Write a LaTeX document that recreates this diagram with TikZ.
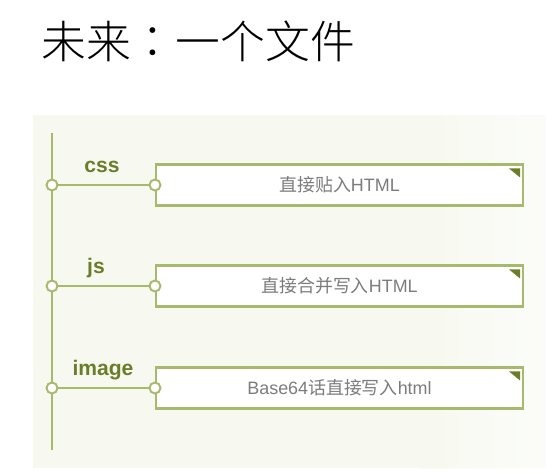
\documentclass[tikz,border=0pt]{standalone}
\usepackage{fontspec}
\setmainfont{Liberation Sans}
\newfontfamily\cjk{Noto Sans CJK SC}
\newfontfamily\cjklight{Noto Sans CJK TC}[UprightFont={* Light}]
\usepackage{tikz}
\usetikzlibrary{positioning,calc}
\definecolor{leaf}{HTML}{A6B96C}
\definecolor{leafdark}{HTML}{6C7D2A}
\definecolor{panel}{HTML}{F7F9F0}
\definecolor{boxtext}{HTML}{7C7C7C}

\begin{document}
\begin{tikzpicture}[x=0.02cm,y=-0.02cm,
stem/.style={draw=leaf, line width=1.2pt},
knot/.style={circle, draw=leaf, fill=white, line width=1.1pt, inner sep=0pt, minimum size=0.22cm},
itembox/.style={draw=leaf, fill=white, line width=1.2pt, minimum width=7.34cm, minimum height=0.82cm, inner sep=0pt, text=boxtext, font=\fontsize{10.2}{12}\selectfont},
tag/.style={text=leafdark, font=\bfseries\fontsize{12}{14}\selectfont, inner sep=0pt},
corner/.style={fill=leafdark}
]
\useasboundingbox (0,0) rectangle (558,474);
% Title
\node[anchor=west, inner sep=0pt, font=\cjklight\fontsize{25.5}{28}\selectfont] (title) at (41,41) {未来：一个文件};
% Panel
\fill[panel] (33,115) rectangle (546,468);
\shade[left color=panel, right color=white, opacity=0.6] (420,115) rectangle (546,468);
% Trunk
\coordinate (top) at (52,133);
\coordinate (bottom) at (52,450);
\draw[stem] (top) -- (bottom);
% Boxes
\node[itembox, anchor=west] (box1) at (155,185) {{\cjk 直接贴入}HTML};
\node[itembox, anchor=west] (box2) at (155,286) {{\cjk 直接合并写入}HTML};
\node[itembox, anchor=west] (box3) at (155,388) {Base64{\cjk 话直接写入}html};
\fill[corner] (box1.north east) ++(-4,5) -- ++(-11,0) -- ++(11,9) -- cycle;
\fill[corner] (box2.north east) ++(-4,5) -- ++(-11,0) -- ++(11,9) -- cycle;
\fill[corner] (box3.north east) ++(-4,5) -- ++(-11,0) -- ++(11,9) -- cycle;
% Knots on the trunk and on the boxes
\node[knot] (k1) at (52,185) {};
\node[knot] (k2) at (52,286) {};
\node[knot] (k3) at (52,388) {};
\node[knot] (t1) at (box1.west) {};
\node[knot] (t2) at (box2.west) {};
\node[knot] (t3) at (box3.west) {};
\draw[stem] (k1) -- (t1);
\draw[stem] (k2) -- (t2);
\draw[stem] (k3) -- (t3);
% Labels
\node[tag] (css) at (102,167) {css};
\node[tag] (js) at (96,268) {js};
\node[tag] (image) at (103,370) {image};
\end{tikzpicture}
\end{document}
